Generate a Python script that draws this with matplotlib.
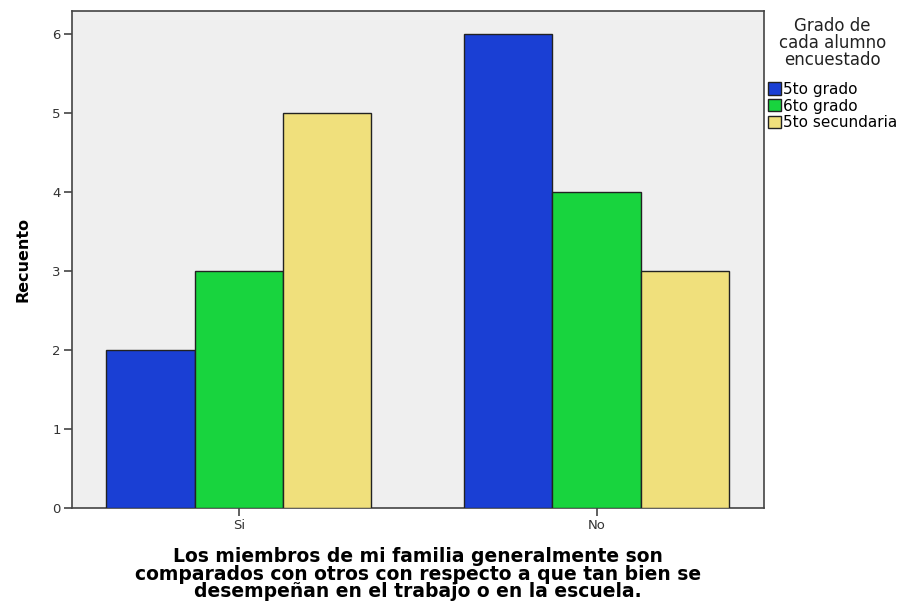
import matplotlib
matplotlib.use("Agg")
import matplotlib.pyplot as plt
import numpy as np
from matplotlib.patches import Patch

categories = ["Si", "No"]
series_names = ["5to grado", "6to grado", "5to secundaria"]
values_5to_grado = [2, 6]
values_6to_grado = [3, 4]
values_5to_secundaria = [5, 3]
series_values = [values_5to_grado, values_6to_grado, values_5to_secundaria]
colors = ["#1a3fd4", "#18d43e", "#f0e07c"]
yticks = [0, 1, 2, 3, 4, 5, 6]

fig = plt.figure(figsize=(9.08, 6.08), dpi=100)
ax = fig.add_axes([0.0793, 0.1645, 0.7621, 0.8174])
ax.set_facecolor("#efefef")

x = np.arange(len(categories))
w = 0.247
for i, (name, vals, c) in enumerate(zip(series_names, series_values, colors)):
    ax.bar(x + (i - 1) * w, vals, width=w, color=c, edgecolor="#222222",
           linewidth=1.0, label=name, zorder=3)

ax.set_xlim(-0.466, 1.468)
ax.set_ylim(0, 6.29)
ax.set_yticks(yticks)
ax.set_xticks(x)
ax.set_xticklabels(categories)
ax.tick_params(axis="both", direction="out", length=6, width=1.2,
               color="#444444", labelcolor="#333333", labelsize=9.5, pad=2)
for s in ax.spines.values():
    s.set_color("#444444")
    s.set_linewidth(1.2)

ax.set_ylabel("Recuento", fontsize=11.5, fontweight="bold", labelpad=16)
ax.set_xlabel("Los miembros de mi familia generalmente son\n"
              "comparados con otros con respecto a que tan bien se\n"
              "desempeñan en el trabajo o en la escuela.",
              fontsize=13.5, fontweight="bold", linespacing=0.9, labelpad=11)

handles = [Patch(facecolor=c, edgecolor="#222222", label=n)
           for n, c in zip(series_names, colors)]
leg = fig.legend(handles=handles, title="Grado de\ncada alumno\nencuestado",
                 loc="upper left", bbox_to_anchor=(0.844, 0.975),
                 frameon=False, fontsize=11, title_fontsize=12,
                 handlelength=0.85, handleheight=0.85, handletextpad=0.15,
                 labelspacing=0.12, borderaxespad=0, borderpad=0.1)
leg.get_title().set_multialignment("center")
leg.get_title().set_color("#222222")
leg.get_title().set_linespacing(0.95)
leg._legend_box.sep = 9

fig.savefig("out.png", dpi=100)
